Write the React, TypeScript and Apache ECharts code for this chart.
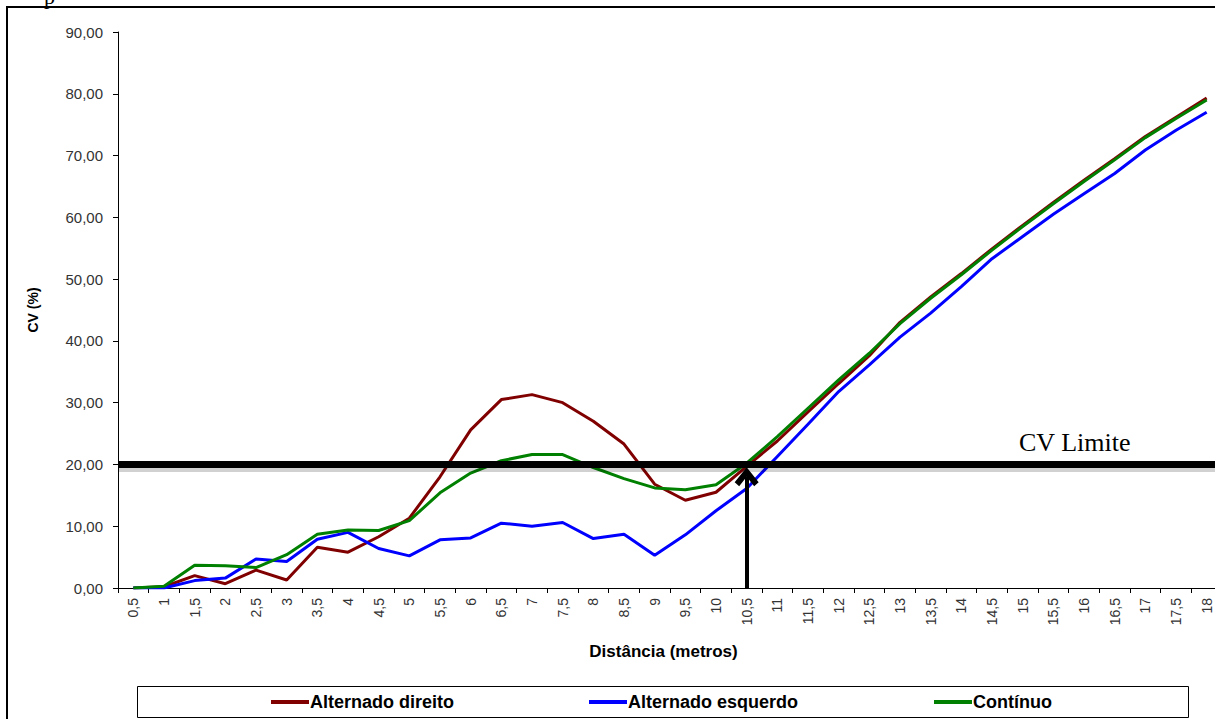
import React, { useEffect, useRef } from "react";
import * as echarts from "echarts";

const categories = [
  "0,5", "1", "1,5", "2", "2,5", "3", "3,5", "4", "4,5", "5", "5,5", "6",
  "6,5", "7", "7,5", "8", "8,5", "9", "9,5", "10", "10,5", "11", "11,5", "12",
  "12,5", "13", "13,5", "14", "14,5", "15", "15,5", "16", "16,5", "17", "17,5", "18",
];

const alternadoDireito = [
  0, 0.2, 2.0, 0.7, 2.9, 1.3, 6.6, 5.8, 8.3, 11.3, 18.0, 25.6,
  30.5, 31.3, 30.0, 27.0, 23.3, 16.8, 14.2, 15.5, 19.7, 23.8, 28.5, 33.1,
  37.6, 43.0, 47.1, 50.9, 54.9, 58.7, 62.4, 66.0, 69.5, 73.1, 76.2, 79.3,
];

const alternadoEsquerdo = [
  0, 0, 1.2, 1.6, 4.7, 4.3, 7.9, 9.0, 6.4, 5.2, 7.8, 8.1,
  10.5, 10.0, 10.6, 8.0, 8.7, 5.3, 8.6, 12.5, 16.1, 21.3, 26.5, 31.8,
  36.1, 40.6, 44.5, 48.8, 53.3, 56.9, 60.5, 63.8, 67.1, 70.9, 74.1, 77.0,
];

const continuo = [
  0, 0.3, 3.7, 3.6, 3.3, 5.4, 8.7, 9.4, 9.3, 10.9, 15.4, 18.6,
  20.6, 21.6, 21.6, 19.5, 17.7, 16.2, 15.9, 16.7, 20.2, 24.5, 29.1, 33.7,
  38.0, 42.8, 46.9, 50.7, 54.7, 58.5, 62.2, 65.8, 69.3, 72.9, 76.0, 79.0,
];

const cvLimite = 20;
const cvLimiteShadow = 19.3;
const arrowCategory = "10,5";
const arrowTop = 18.0;

const yTicks = { min: 0, max: 90, interval: 10 };

const chevron = "path://M12,0 L24,15 L19.5,19 L12,9.5 L4.5,19 L0,15 Z";

export default function App() {
  const ref = useRef<HTMLDivElement>(null);

  useEffect(() => {
    if (!ref.current) return;
    const chart = echarts.init(ref.current, undefined, { renderer: "svg" });
    const font = "'Liberation Sans', Arial, sans-serif";
    const legendText = { fontFamily: font, fontSize: 18, fontWeight: "bold", color: "#000", padding: [0, 0, 0, -4] };
    chart.setOption({
      animation: false,
      backgroundColor: "#ffffff",
      textStyle: { fontFamily: font },
      grid: { left: 118, top: 32, right: 0, bottom: 131, containLabel: false },
      xAxis: {
        type: "category",
        data: categories,
        boundaryGap: true,
        name: "Distância (metros)",
        nameLocation: "middle",
        nameGap: 55,
        nameTextStyle: { fontFamily: font, fontSize: 17, fontWeight: "bold", color: "#000", padding: [0, 13, 0, 0] },
        axisLine: { lineStyle: { color: "#000", width: 1 } },
        axisTick: { show: true, alignWithLabel: false, interval: 0, length: 5, lineStyle: { color: "#000" } },
        axisLabel: { interval: 0, rotate: 90, margin: 10, fontSize: 14, color: "#333", fontFamily: font },
        splitLine: { show: false },
      },
      yAxis: {
        type: "value",
        min: yTicks.min,
        max: yTicks.max,
        interval: yTicks.interval,
        name: "CV (%)",
        nameLocation: "middle",
        nameGap: 78,
        nameTextStyle: { fontFamily: font, fontSize: 14, fontWeight: "bold", color: "#000" },
        axisLine: { show: true, lineStyle: { color: "#000", width: 1 } },
        axisTick: { show: true, length: 5, lineStyle: { color: "#000" } },
        axisLabel: {
          fontSize: 15,
          color: "#333",
          margin: 15,
          fontFamily: font,
          formatter: (v: number) => v.toFixed(2).replace(".", ","),
        },
        splitLine: { show: false },
      },
      legend: [
        {
          data: ["Alternado direito"],
          left: 266,
          top: 688,
          icon: "rect",
          itemWidth: 38,
          itemHeight: 4,
          textStyle: legendText,
        },
        {
          data: ["Alternado esquerdo"],
          left: 584,
          top: 688,
          icon: "rect",
          itemWidth: 38,
          itemHeight: 4,
          textStyle: legendText,
        },
        {
          data: ["Contínuo"],
          left: 929,
          top: 688,
          icon: "rect",
          itemWidth: 38,
          itemHeight: 4,
          textStyle: legendText,
        },
      ],
      graphic: [
        {
          type: "rect",
          shape: { x: 7, y: 7, width: 1240, height: 760 },
          style: { fill: "none", stroke: "#000", lineWidth: 2 },
          silent: true,
          z: -1,
        },
        {
          type: "rect",
          shape: { x: 137.5, y: 686.5, width: 1051, height: 31 },
          style: { fill: "#fff", stroke: "#000", lineWidth: 1 },
          silent: true,
          z: 0,
        },
        {
          type: "text",
          x: 44,
          y: -15,
          style: { text: "p", font: "22px 'Liberation Serif', serif", fill: "#000" },
          silent: true,
        },
        {
          type: "text",
          x: 1019,
          y: 442,
          style: {
            text: "CV Limite",
            font: "26px 'Liberation Serif', 'Times New Roman', serif",
            fill: "#000",
            textVerticalAlign: "middle",
          },
          silent: true,
          z: 20,
        },
      ],
      series: [
        {
          name: "Alternado direito",
          type: "line",
          data: alternadoDireito,
          symbol: "none",
          lineStyle: { color: "#800000", width: 3 },
          itemStyle: { color: "#800000" },
          z: 2,
          markLine: {
            silent: true,
            symbol: ["none", "none"],
            label: { show: false },
            emphasis: { disabled: true },
            lineStyle: { color: "#000", width: 7, type: "solid" },
            data: [
              { yAxis: cvLimiteShadow, lineStyle: { color: "rgba(0,0,0,0.18)", width: 6, type: "solid" } },
              { yAxis: cvLimite, lineStyle: { color: "#000", width: 7, type: "solid" } },
            ],
          },
        },
        {
          name: "Alternado esquerdo",
          type: "line",
          data: alternadoEsquerdo,
          symbol: "none",
          lineStyle: { color: "#0000ff", width: 3 },
          itemStyle: { color: "#0000ff" },
          z: 3,
        },
        {
          name: "Contínuo",
          type: "line",
          data: continuo,
          symbol: "none",
          lineStyle: { color: "#008000", width: 3 },
          itemStyle: { color: "#008000" },
          z: 4,
          markLine: {
            silent: true,
            symbol: ["none", chevron],
            symbolSize: [24, 19],
            label: { show: false },
            emphasis: { disabled: true },
            lineStyle: { color: "#000", width: 4, type: "solid" },
            data: [
              [
                { coord: [arrowCategory, 0] },
                { coord: [arrowCategory, arrowTop] },
              ],
            ],
          },
        },
      ],
    });
    return () => chart.dispose();
  }, []);

  return (
    <div
      style={{
        position: "absolute",
        left: 0,
        top: 0,
        width: 1215,
        height: 719,
        overflow: "hidden",
        background: "#fff",
      }}
    >
      <div ref={ref} style={{ width: 1222, height: 719 }} />
    </div>
  );
}
